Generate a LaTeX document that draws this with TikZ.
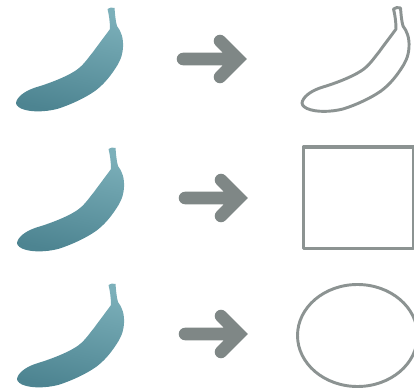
\documentclass[tikz,border=0pt]{standalone}
\newcommand{\bananashape}{
  (107.5,9) .. controls (109,7.5) and (112.5,7) .. (114.5,8)
  .. controls (115,14) and (115.5,21) .. (117,26)
  .. controls (121,31) and (123.5,38) .. (123,47)
  .. controls (122.5,57) and (119,63) .. (115,69)
  .. controls (109,78) and (103,85) .. (95,91)
  .. controls (85,98) and (70,105) .. (57,109)
  .. controls (45,112) and (30,112.5) .. (21,108.5)
  .. controls (17,106.5) and (15,104) .. (16.5,101)
  .. controls (19,95) and (27,90) .. (37,87)
  .. controls (47,84) and (64,78) .. (75,71)
  .. controls (83,66) and (88,58) .. (93,52)
  .. controls (98,45) and (105,36) .. (110,29)
  .. controls (110,22) and (109,15) .. (107.5,9) -- cycle}
\tikzset{
  x=0.75pt,y=-0.75pt,
  bananafill/.style={top color=bananalight,bottom color=bananadark,shading angle=-12},
  outlinestroke/.style={draw=outlinegray,line width=2.2pt,line join=round,fill=white},
  arrowstroke/.style={draw=arrowgray,line width=9.4pt,line cap=round,line join=miter}
}
\definecolor{bananalight}{HTML}{7CB0BA}
\definecolor{bananadark}{HTML}{4D8491}
\definecolor{outlinegray}{HTML}{8C9392}
\definecolor{arrowgray}{HTML}{7F8786}
\begin{document}
\begin{tikzpicture}
\useasboundingbox (0,0) rectangle (414,388);
\clip (0,0) rectangle (414,388);
% left bananas
\begin{scope}[shift={(0,0)}]\shade[bananafill] \bananashape;\end{scope}
\begin{scope}[shift={(1,140)}]\shade[bananafill] \bananashape;\end{scope}
\begin{scope}[shift={(1,276)}]\shade[bananafill] \bananashape;\end{scope}
% arrows
\draw[arrowstroke] (183,59) -- (234,59) (220,41) -- (238,59) -- (220,77);
\draw[arrowstroke] (185,198) -- (235,198) (221,180) -- (239,198) -- (221,216);
\draw[arrowstroke] (185,334) -- (235,334) (221,316) -- (239,334) -- (221,352);
% results
\begin{scope}[shift={(286,0)}]\path[outlinestroke] \bananashape;\end{scope}
\draw[outlinestroke,line width=2.8pt] (303.5,147) rectangle (413.5,248.5);
\draw[outlinestroke] (357.5,335.5) ellipse [x radius=60,y radius=51];
\end{tikzpicture}
\end{document}
